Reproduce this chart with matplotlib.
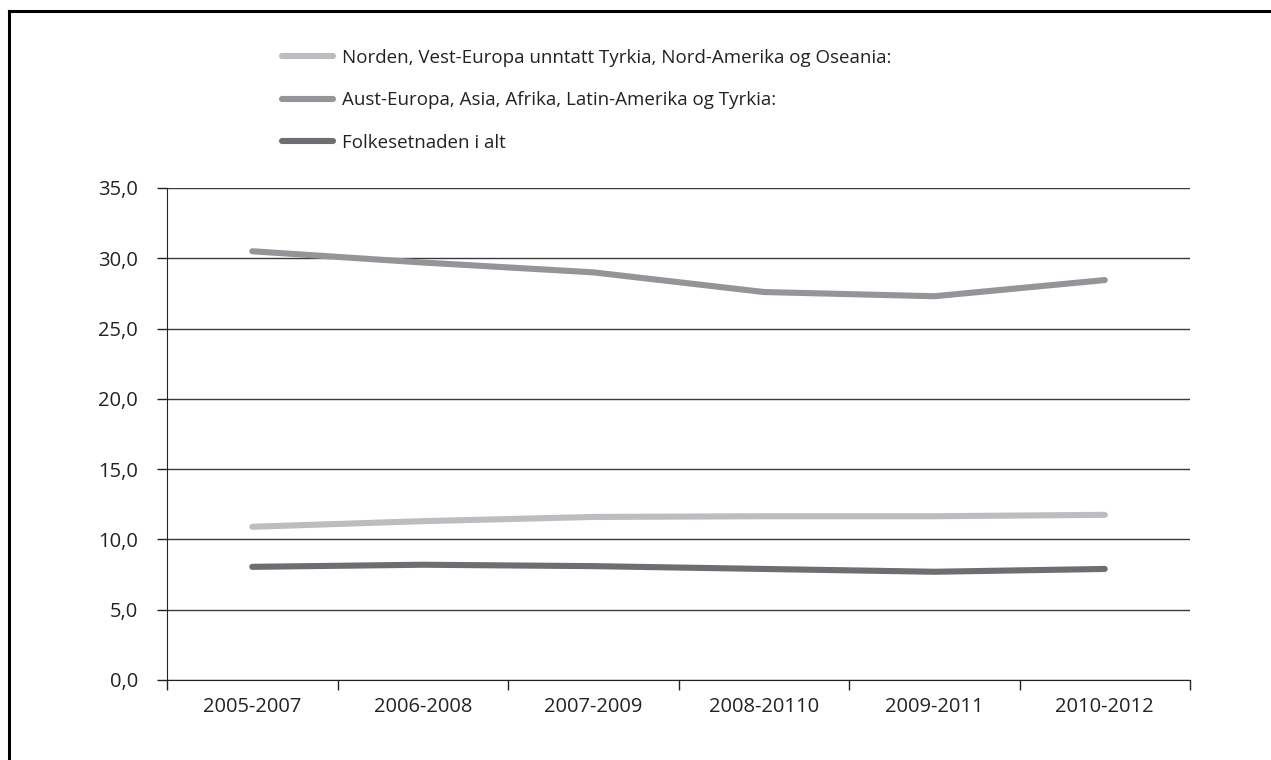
import numpy as np
import matplotlib
matplotlib.use("Agg")
import matplotlib.pyplot as plt
from matplotlib.lines import Line2D
from matplotlib.ticker import FuncFormatter

plt.rcParams['font.family'] = ['Open Sans', 'DejaVu Sans']

periods = ['2005-2007', '2006-2008', '2007-2009', '2008-20110', '2009-2011', '2010-2012']
norden = [10.9, 11.3, 11.6, 11.65, 11.65, 11.75]
aust = [30.5, 29.7, 29.0, 27.6, 27.3, 28.45]
total = [8.05, 8.2, 8.1, 7.9, 7.7, 7.9]

labels = ['Norden, Vest-Europa unntatt Tyrkia, Nord-Amerika og Oseania:',
          'Aust-Europa, Asia, Afrika, Latin-Amerika og Tyrkia:',
          'Folkesetnaden i alt']
colors = ['#bcbdc0', '#939598', '#6d6e71']

fig = plt.figure(figsize=(12.71, 7.60), dpi=100)
ax = fig.add_axes([167/1271, 1-680/760, (1190-167)/1271, (680-188)/760])

x = np.arange(len(periods))
for ys, lab, col in zip([norden, aust, total], labels, colors):
    ax.plot(x, ys, color=col, lw=4.4, solid_capstyle='round', label=lab, zorder=3)

ax.set_xlim(-0.5, len(periods) - 0.5)
ax.set_ylim(0, 35)
ax.set_yticks(np.arange(0, 36, 5))
ax.yaxis.set_major_formatter(FuncFormatter(lambda v, p: f"{v:.1f}".replace('.', ',')))
ax.grid(axis='y', color='#3a3a3a', lw=1.0, zorder=1)

# category ticks sit between the periods, labels in the middle
ax.set_xticks(np.arange(-0.5, len(periods), 1.0))
ax.set_xticklabels([])
ax.set_xticks(x, minor=True)
ax.set_xticklabels(periods, minor=True)
ax.tick_params(axis='x', which='major', length=7, width=1, color='#222222', direction='out')
ax.tick_params(axis='x', which='minor', length=0, pad=12, labelsize=14.5, labelcolor='#222222')
ax.tick_params(axis='y', length=7, width=1, color='#222222', pad=14, labelsize=14.5, labelcolor='#222222')

for s in ['top', 'right']:
    ax.spines[s].set_visible(False)
ax.spines['left'].set_color('#222222')
ax.spines['bottom'].set_color('#222222')

fig.legend(loc='upper left', bbox_to_anchor=(282/1271, 1-49/760), frameon=False,
           fontsize=13.5, handlelength=2.7, handletextpad=0.5, labelspacing=1.3,
           borderpad=0, borderaxespad=0, labelcolor='#222222')

# outer frame (left and top edges)
fig.add_artist(Line2D([9/1271, 9/1271], [0, 1-11/760], transform=fig.transFigure, color='black', lw=2.2))
fig.add_artist(Line2D([9/1271, 1], [1-11/760, 1-11/760], transform=fig.transFigure, color='black', lw=2.2))

fig.savefig('out.png', dpi=100)
